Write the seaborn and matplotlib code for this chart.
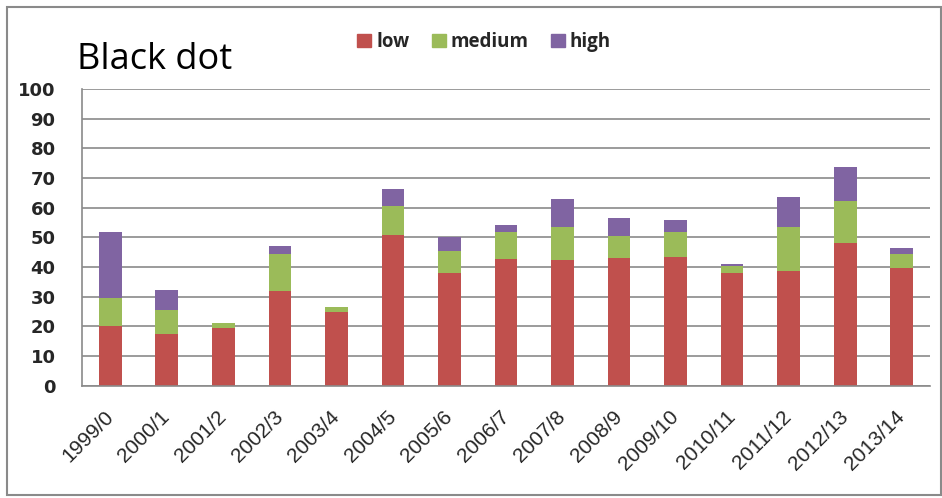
import matplotlib
matplotlib.use("Agg")
import matplotlib.pyplot as plt
import seaborn as sns
import pandas as pd
import numpy as np
from matplotlib.patches import Patch, Rectangle

seasons = ["1999/0", "2000/1", "2001/2", "2002/3", "2003/4", "2004/5", "2005/6",
           "2006/7", "2007/8", "2008/9", "2009/10", "2010/11", "2011/12",
           "2012/13", "2013/14"]
low = [20.0, 17.4, 19.3, 32.0, 24.7, 50.7, 37.9, 42.6, 42.5, 43.1, 43.5, 37.9, 38.8, 48.2, 39.8]
medium = [9.7, 8.1, 1.8, 12.5, 1.7, 10.0, 7.6, 9.1, 11.0, 7.5, 8.2, 2.5, 14.7, 14.0, 4.7]
high = [22.0, 6.7, 0.0, 2.5, 0.0, 5.7, 4.7, 2.4, 9.5, 5.8, 4.3, 0.7, 10.0, 11.4, 1.9]
series_names = ["low", "medium", "high"]
series_colors = ["#C0504D", "#9BBB59", "#8064A2"]
y_ticks = list(range(0, 101, 10))
title = "Black dot"

df = pd.DataFrame({"season": seasons, "low": low, "medium": medium, "high": high})

sns.set_style("white")
grey = "#8a8a8a"

fig = plt.figure(figsize=(9.42, 4.98), dpi=100)
ax = fig.add_axes([82 / 942, 1 - 385.7 / 498, 848 / 942, (385.7 - 89) / 498])

# stacked bars: each series sits on the running total of the ones below
bottoms = np.zeros(len(seasons))
for name, color in zip(series_names, series_colors):
    sns.barplot(data=df, x="season", y=name, order=seasons, color=color,
                saturation=1, width=0.4, bottom=bottoms, ax=ax,
                edgecolor=color, linewidth=0)
    bottoms = bottoms + df[name].to_numpy()

ax.set_xlim(-0.5, len(seasons) - 0.5)
ax.set_ylim(0, 100)
ax.set_yticks(y_ticks)
ax.set_xlabel("")
ax.set_ylabel("")

ax.yaxis.grid(True, color=grey, linewidth=1.2)
ax.xaxis.grid(False)
ax.set_axisbelow(True)

for side in ["top", "right"]:
    ax.spines[side].set_visible(False)
for side in ["left", "bottom"]:
    ax.spines[side].set_color(grey)
    ax.spines[side].set_linewidth(1.2)

# category labels at bar centres, tick marks at category boundaries
ax.set_xticks(range(len(seasons)))
ax.set_xticklabels(seasons, rotation=45, ha="right", va="center",
                   rotation_mode="anchor", fontsize=15, family="Liberation Sans")
ax.tick_params(axis="x", which="major", length=0, pad=20)
ax.set_xticks(np.arange(-0.5, len(seasons), 1.0), minor=True)
ax.tick_params(axis="x", which="minor", length=5, width=1.2, color=grey, direction="out")

ax.tick_params(axis="y", length=9, width=1.2, color=grey, direction="out", pad=10)
for lbl in ax.get_yticklabels():
    lbl.set_fontsize(13)
    lbl.set_fontweight("bold")
    lbl.set_family("DejaVu Sans")

fig.text(77 / 942, 1 - 69.3 / 498, title, fontsize=26, family="Open Sans",
         ha="left", va="baseline", color="black")

handles = [Patch(facecolor=c, edgecolor=c) for c in series_colors]
fig.legend(handles, series_names, loc="center", bbox_to_anchor=(484 / 942, 1 - 42 / 498),
           ncol=3, frameon=False, handlelength=0.75, handleheight=0.75,
           handletextpad=0.25, columnspacing=1.2,
           prop={"family": "Open Sans", "weight": "bold", "size": 13.5})

fig.add_artist(Rectangle((6.5 / 942, 1 - 495 / 498), (941 - 6.5) / 942, (495 - 7) / 498,
                         transform=fig.transFigure, fill=False, edgecolor=grey,
                         linewidth=1.5))

fig.savefig("out.png", dpi=100)
